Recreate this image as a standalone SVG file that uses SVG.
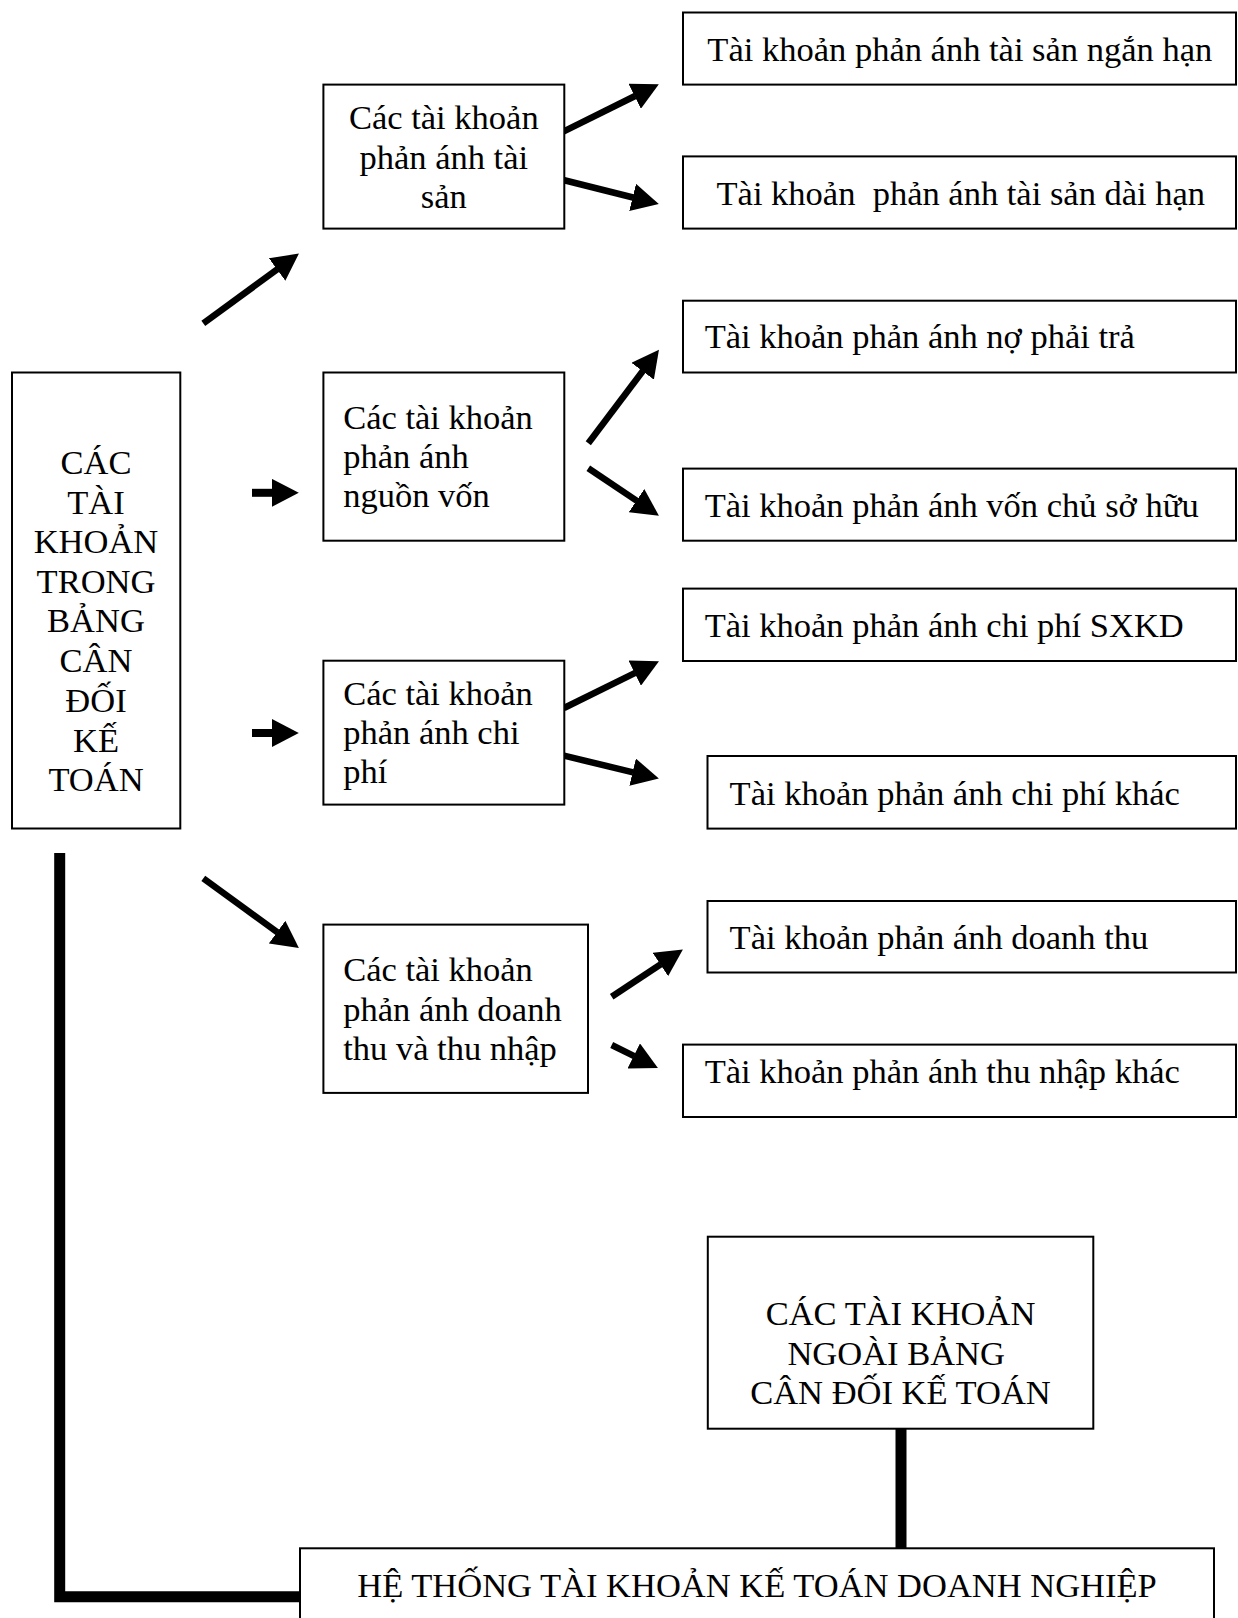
<svg xmlns="http://www.w3.org/2000/svg" width="1238" height="1618" viewBox="0 0 1238 1618">
<style>
.box{fill:#fff;stroke:#000;stroke-width:2}
.t{font-family:"Liberation Serif","Times New Roman",serif;font-size:34.5px;fill:#000}
.c{text-anchor:middle}
.arr{stroke:#000;stroke-width:6.5;fill:none;marker-end:url(#ah)}
.arrh{stroke:#000;stroke-width:8;fill:none;marker-end:url(#ah)}
.thick{stroke:#000;stroke-width:11;fill:none;stroke-linejoin:miter}
</style>
<defs>
<marker id="ah" markerUnits="userSpaceOnUse" viewBox="0 0 27 28" markerWidth="27" markerHeight="28" refX="0.5" refY="14" orient="auto">
<polygon points="0,0 27,14 0,28" fill="#000"/>
</marker>
</defs>
<rect width="1238" height="1618" fill="#fff"/>

<g id="connectors">
<line class="arr" x1="203.3" y1="323.3" x2="277.5" y2="269.2"/>
<line class="arrh" x1="252" y1="492.8" x2="272.3" y2="492.8"/>
<line class="arrh" x1="252" y1="733" x2="272.3" y2="733"/>
<line class="arr" x1="203.3" y1="878.3" x2="277.5" y2="932.4"/>
<line class="arr" x1="563.3" y1="131.7" x2="635.1" y2="96"/>
<line class="arr" x1="563.3" y1="180" x2="633.1" y2="197.5"/>
<line class="arr" x1="588.3" y1="443.3" x2="643" y2="370.8"/>
<line class="arr" x1="588.3" y1="468.3" x2="636.9" y2="500.9"/>
<line class="arr" x1="564" y1="708" x2="635.2" y2="672.9"/>
<line class="arr" x1="564" y1="755.7" x2="633.1" y2="772.3"/>
<line class="arr" x1="611.7" y1="996.7" x2="660.8" y2="964.2"/>
<line class="arr" x1="611.7" y1="1045" x2="634.2" y2="1056.2"/>
<path class="thick" d="M59.7,853 V1596.7 H300"/>
<line class="thick" x1="901" y1="1428.7" x2="901" y2="1548.3"/>
</g>

<g id="main">
<rect class="box" x="12" y="372.5" width="168.3" height="456"/>
<text class="t c" x="96" y="474">CÁC</text>
<text class="t c" x="96" y="513.5">TÀI</text>
<text class="t c" x="96" y="553">KHOẢN</text>
<text class="t c" x="96" y="592.7">TRONG</text>
<text class="t c" x="96" y="632.4">BẢNG</text>
<text class="t c" x="96" y="672.1">CÂN</text>
<text class="t c" x="96" y="711.8">ĐỐI</text>
<text class="t c" x="96" y="751.5">KẾ</text>
<text class="t c" x="96" y="791.2">TOÁN</text>
</g>

<g id="tai-san">
<rect class="box" x="323.4" y="84.6" width="240.9" height="144"/>
<text class="t c" x="443.8" y="129.3">Các tài khoản</text>
<text class="t c" x="443.8" y="168.6">phản ánh tài</text>
<text class="t c" x="443.8" y="207.9">sản</text>
</g>

<g id="nguon-von">
<rect class="box" x="323.4" y="372.5" width="240.9" height="168.2"/>
<text class="t" x="343.2" y="428.6">Các tài khoản</text>
<text class="t" x="343.2" y="467.9">phản ánh</text>
<text class="t" x="343.2" y="507.2">nguồn vốn</text>
</g>

<g id="chi-phi">
<rect class="box" x="323.4" y="660.7" width="240.9" height="143.9"/>
<text class="t" x="343.2" y="704.6">Các tài khoản</text>
<text class="t" x="343.2" y="743.9">phản ánh chi</text>
<text class="t" x="343.2" y="783.2">phí</text>
</g>

<g id="doanh-thu">
<rect class="box" x="323.4" y="924.6" width="264.6" height="168.3"/>
<text class="t" x="343.2" y="981.4">Các tài khoản</text>
<text class="t" x="343.2" y="1020.7">phản ánh doanh</text>
<text class="t" x="343.2" y="1060">thu và thu nhập</text>
</g>

<g id="ts-ngan-han">
<rect class="box" x="683" y="12.5" width="553" height="72.1"/>
<text class="t c" x="959.8" y="60.7">Tài khoản phản ánh tài sản ngắn hạn</text>
</g>

<g id="ts-dai-han">
<rect class="box" x="683" y="156.4" width="553" height="72.2"/>
<text class="t c" x="960.8" y="205" xml:space="preserve">Tài khoản  phản ánh tài sản dài hạn</text>
</g>

<g id="no-phai-tra">
<rect class="box" x="683" y="300.7" width="553" height="71.8"/>
<text class="t" x="704.7" y="348">Tài khoản phản ánh nợ phải trả</text>
</g>

<g id="von-chu-so-huu">
<rect class="box" x="683" y="468.6" width="553" height="72.1"/>
<text class="t" x="704.7" y="517">Tài khoản phản ánh vốn chủ sở hữu</text>
</g>

<g id="chi-phi-sxkd">
<rect class="box" x="683" y="588.6" width="553" height="72.4"/>
<text class="t" x="704.7" y="636.8">Tài khoản phản ánh chi phí SXKD</text>
</g>

<g id="chi-phi-khac">
<rect class="box" x="707.5" y="756" width="528.5" height="72.6"/>
<text class="t" x="729.6" y="804.6">Tài khoản phản ánh chi phí khác</text>
</g>

<g id="doanh-thu-r">
<rect class="box" x="707.5" y="901" width="528.5" height="71.5"/>
<text class="t" x="729.6" y="948.6">Tài khoản phản ánh doanh thu</text>
</g>

<g id="thu-nhap-khac">
<rect class="box" x="683" y="1044.6" width="553" height="72.4"/>
<text class="t" x="704.7" y="1083">Tài khoản phản ánh thu nhập khác</text>
</g>

<g id="ngoai-bang">
<rect class="box" x="707.8" y="1236.7" width="385.5" height="192"/>
<text class="t c" x="900.5" y="1325">CÁC TÀI KHOẢN</text>
<text class="t c" x="900.5" y="1364.5" xml:space="preserve">NGOÀI BẢNG </text>
<text class="t c" x="900.5" y="1404">CÂN ĐỐI KẾ TOÁN</text>
</g>

<g id="he-thong">
<rect class="box" x="300" y="1548.3" width="914" height="100"/>
<text class="t c" x="757" y="1596.7">HỆ THỐNG TÀI KHOẢN KẾ TOÁN DOANH NGHIỆP</text>
</g>
</svg>
